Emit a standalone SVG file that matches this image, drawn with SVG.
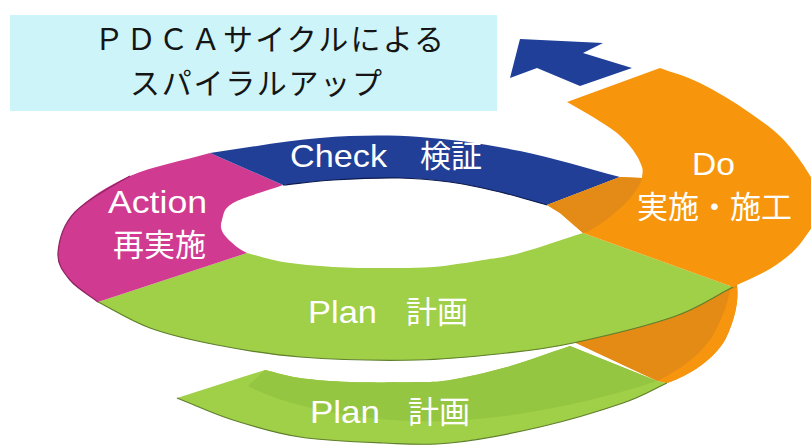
<svg xmlns="http://www.w3.org/2000/svg" width="811" height="445" viewBox="0 0 811 445">
<style>
.lbl{fill:#ffffff;font-family:"Liberation Sans","Noto Sans CJK JP",sans-serif;font-size:32px}
.jp{fill:#ffffff;font-family:"Noto Sans CJK JP",sans-serif;font-size:31px}
.ttl{fill:#151515;font-family:"Noto Sans CJK JP",sans-serif;font-size:30px}
.green{fill:#a0cf48}
.orange{fill:#f7960d}
.edge{fill:none;stroke-width:1.2}
</style>
<rect width="811" height="445" fill="#ffffff"/>
<g id="title">
<rect x="10" y="15" width="487" height="96" fill="#cdf5f9"/>
<text class="ttl" x="94" y="50" textLength="350" lengthAdjust="spacing">ＰＤＣＡサイクルによる</text>
<text class="ttl" x="130" y="94" textLength="252" lengthAdjust="spacing">スパイラルアップ</text>
</g>
<g id="connectors">
<polygon points="510,78 520,39 603,43 583,53 632,68 580,86 537,68" fill="#1f3f99"/>
</g>
<g id="do-lower">
<path d="M565,338 L680,300 L737,284 C739,300 735,320 725,340 C713,360 690,375 667,383 L657,381 Z" fill="#e38b14"/>
<path d="M737,287 C739,300 735,320 725,340 C713,360 690,375 667,383 L657,381 C680,370 700,355 712,337 C722,320 728,302 730,290 Z" fill="#f7950e"/>
</g>
<g id="plan-lower">
<path class="green" d="M265,370 C276.7,372.7 285.8,376 300,378 S330.5,381.3 350,382 S400.3,382.3 417,382 S435,382.5 450,380 S487,372.7 507,367 S549,353 570,346 L657,381 L667,383 C652.3,389.7 644.2,395.7 623,403 S568.8,420.3 540,427 S476.2,440.3 450,443 S408,444 383,443 S325,440.8 300,437 S253.5,426.5 233,420 S195.7,405.3 177,398 Z"/>
<path d="M265,370 C276.7,372.7 285.8,376 300,378 S330.5,381.3 350,382 S400.3,382.3 417,382 S435,382.5 450,380 S487,372.7 507,367 S549,353 570,346 L657,381 C600,400 520,418 450,421 C380,423 300,412 248,386 Z" fill="#95c642"/>
<path class="edge" stroke="#5f7f2c" d="M667,383 C652.3,389.7 644.2,395.7 623,403 S568.8,420.3 540,427 S476.2,440.3 450,443 S408,444 383,443 S325,440.8 300,437 S253.5,426.5 233,420 S195.7,405.3 177,398"/>
<text class="lbl" x="310" y="423" textLength="70" lengthAdjust="spacingAndGlyphs">Plan</text>
<text class="jp" x="408" y="423">計画</text>
</g>
<g id="plan">
<path class="green" d="M98,302 C115.3,310.7 130.2,320.8 150,328 S192,340.2 217,345 S266.7,354.5 300,357 S382.5,360.7 417,360 S481,355.8 507,353 S545.3,349 573,343 S646.3,326.3 673,317 S713,297 733,287 L583,233 C562,239.7 536.7,248.5 520,253 S497.5,257.7 483,260 S449.7,265.7 433,267 S399.7,268 383,268 S349.7,268 333,267 S297.3,264.3 283,262 S259,256 247,253 Z"/>
<path class="edge" stroke="#5f7f2c" d="M98,302 C115.3,310.7 130.2,320.8 150,328 S192,340.2 217,345 S266.7,354.5 300,357 S382.5,360.7 417,360 S481,355.8 507,353 S545.3,349 573,343 S646.3,326.3 673,317 S713,297 733,287"/>
<text class="lbl" x="308" y="323" textLength="69" lengthAdjust="spacingAndGlyphs">Plan</text>
<text class="jp" x="406" y="323">計画</text>
</g>
<g id="action">
<path fill="#d13a91" d="M210,153 C183.3,160.7 152.5,166.2 130,176 S87,199.2 75,212 S58.8,241.7 58,253 S63.3,271.8 70,280 S88.7,294.7 98,302 L247,253 C243.7,251 241,250.3 237,247 S225.5,237.5 223,233 S220.3,225 222,220 S222.8,208.8 233,203 S266.3,191 283,185 Z"/>
<path class="edge" stroke="#8e2462" d="M130,176 S87,199.2 75,212 S58.8,241.7 58,253 S63.3,271.8 70,280 S88.7,294.7 98,302"/>
<text class="lbl" x="108" y="213" textLength="99" lengthAdjust="spacingAndGlyphs">Action</text>
<text class="jp" x="113" y="256">再実施</text>
</g>
<g id="check">
<path fill="#223f98" d="M620,177 C586.7,168.3 553.3,157.7 520,151 S453.3,139.2 420,137 S355,135.3 320,138 S246.7,148 210,153 L283,185 C299.7,183.3 313.5,181.2 333,180 S380.5,177.7 400,178 S433.3,179.7 450,182 S483.8,188.2 500,192 S531.3,200.7 547,205 Z"/>
<path class="edge" stroke="#0c1a4c" d="M283,185 C299.7,183.3 313.5,181.2 333,180 S380.5,177.7 400,178 S433.3,179.7 450,182 S483.8,188.2 500,192 S531.3,200.7 547,205"/>
<text class="lbl" x="290" y="167" textLength="97" lengthAdjust="spacingAndGlyphs">Check</text>
<text class="jp" x="420" y="167">検証</text>
</g>
<g id="do">
<path class="orange" d="M567,102 L660,68 C673.3,73 685,75.5 700,83 S735,102.3 750,113 S778.3,132.5 790,147 S817.8,184.5 820,200 S810.8,228.8 803,240 S784.7,259.2 773,267 S746.3,280.3 733,287 L583,233 L560,213 L547,205 L620,177 L642,178 C642,174.3 643.5,171.7 642,167 S637.2,155.7 633,150 S623.7,138.5 617,133 S601.3,122.2 593,117 S575.7,107 567,102 Z"/>
<path fill="#e38b16" d="M547,205 L620,177 L642,178 C638,195 610,220 587,232 L583,233 L560,213 Z"/>
<text class="lbl" x="692" y="175" textLength="43" lengthAdjust="spacingAndGlyphs">Do</text>
<text class="jp" x="637" y="218">実施・施工</text>
</g>
</svg>
